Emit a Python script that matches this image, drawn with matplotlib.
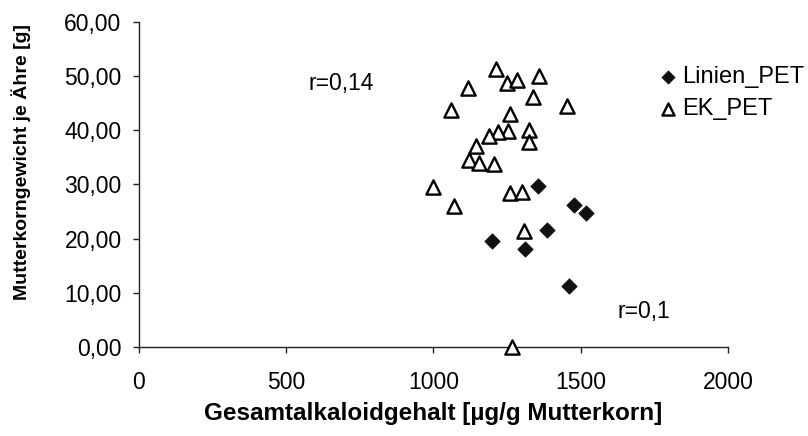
import matplotlib.pyplot as plt
from matplotlib.ticker import FuncFormatter

plt.rcParams['font.family'] = ['Liberation Sans', 'DejaVu Sans']

# Linien_PET: alkaloid content vs. ergot weight per ear
linien_x = [1354, 1478, 1518, 1386, 1199, 1310, 1459]
linien_y = [29.8, 26.2, 24.7, 21.6, 19.6, 18.0, 11.3]

# EK_PET
ek_x = [1212, 1251, 1283, 1359, 1117, 1338, 1060, 1259, 1324, 1254, 1220, 1190,
        1323, 1143, 1122, 1154, 1205, 999, 1069, 1259, 1300, 1307, 1266, 1453]
ek_y = [51.3, 48.7, 49.2, 50.0, 47.8, 46.1, 43.8, 43.0, 40.1, 39.9, 39.6, 39.0,
        37.8, 37.1, 34.5, 33.9, 33.7, 29.5, 26.0, 28.5, 28.6, 21.5, 0.0, 44.5]

x_ticks = [0, 500, 1000, 1500, 2000]
y_ticks = [0, 10, 20, 30, 40, 50, 60]

fs = 16.5

fig = plt.figure(figsize=(8.08, 4.36), dpi=100)
ax = fig.add_axes([0.172, 0.204, 0.729, 0.746])

ax.scatter(linien_x, linien_y, marker='D', s=58, c='#111111',
           edgecolors='#111111', linewidths=0.8, label='Linien_PET', zorder=3)
ax.scatter(ek_x, ek_y, marker='^', s=105, facecolors='white',
           edgecolors='black', linewidths=1.7, label='EK_PET', zorder=3,
           clip_on=False)

ax.set_xlim(0, 2000)
ax.set_ylim(0, 60)
ax.set_xticks(x_ticks)
ax.set_yticks(y_ticks)
ax.yaxis.set_major_formatter(FuncFormatter(lambda v, p: f'{v:.2f}'.replace('.', ',')))

for side in ('top', 'right'):
    ax.spines[side].set_visible(False)
for side in ('left', 'bottom'):
    ax.spines[side].set_linewidth(1.0)
    ax.spines[side].set_color('#222222')

ax.tick_params(direction='out', length=4.5, width=1.0, colors='#222222',
               labelsize=fs, labelcolor='black')
ax.tick_params(axis='x', pad=12.5)
ax.tick_params(axis='y', pad=8)

ax.set_xlabel('Gesamtalkaloidgehalt [µg/g Mutterkorn]', fontsize=17.5,
              fontweight='bold', labelpad=6)
ax.set_ylabel('Mutterkorngewicht je Ähre [g]', fontsize=14,
              fontweight='bold')
# the y title sits a little above the middle of the axis
ax.yaxis.set_label_coords(-0.183, 0.57)

ax.text(577, 48.7, 'r=0,14', fontsize=fs, ha='left', va='center')
ax.text(1626, 6.5, 'r=0,1', fontsize=fs, ha='left', va='center')

fig.legend(*ax.get_legend_handles_labels(), loc='upper left',
           bbox_to_anchor=(656 / 808, 1 - 66 / 436), frameon=False,
           fontsize=17, handletextpad=0.1, labelspacing=0.42,
           borderpad=0, borderaxespad=0, markerscale=0.85, handlelength=1.0)

fig.savefig('out.png', dpi=100)
